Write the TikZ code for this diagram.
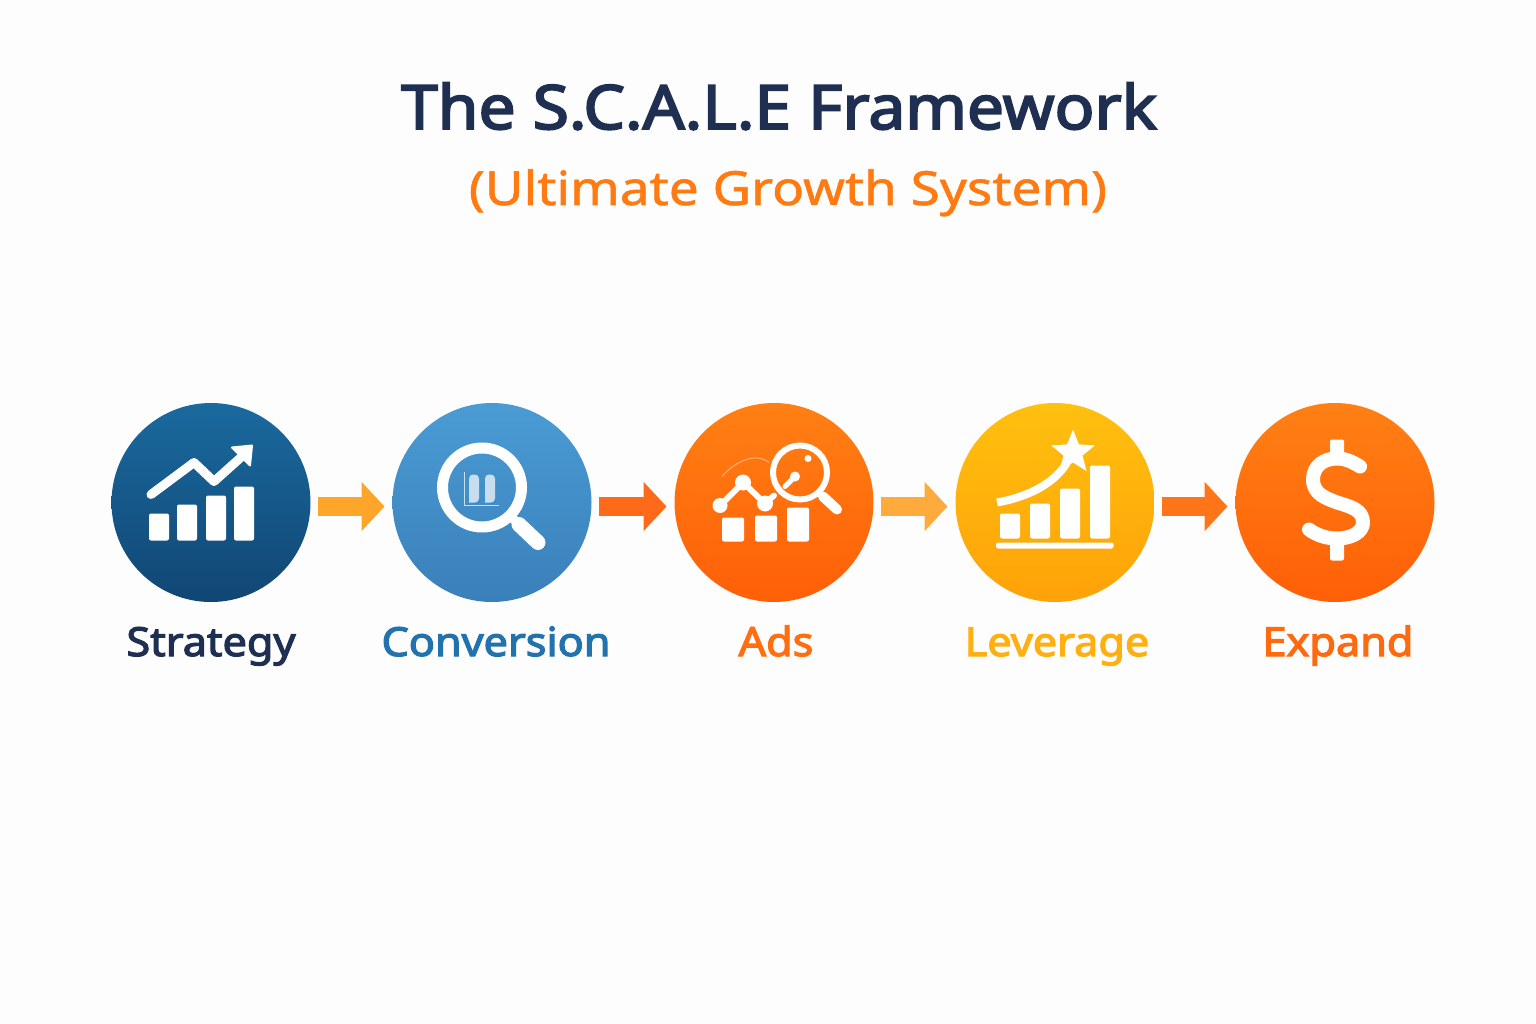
\documentclass[tikz,border=0pt]{standalone}
\usepackage{fontspec}
\setmainfont{Open Sans}
\newfontfamily\titlefont[FakeStretch=1.08,FakeBold=3.2]{Noto Sans}
\newfontfamily\subtitlefont[FakeStretch=1.13,FakeBold=1.2]{Noto Sans}
\newfontfamily\labelfont[FakeStretch=1.08,FakeBold=3]{Noto Sans}
\usetikzlibrary{arrows.meta,shapes.geometric}
\definecolor{navy}{HTML}{1F2F52}
\definecolor{subtitleorange}{HTML}{FF7A10}
\definecolor{strategytop}{HTML}{1A6A9E}
\definecolor{strategybottom}{HTML}{114674}
\definecolor{conversiontop}{HTML}{4A9BD4}
\definecolor{conversionbottom}{HTML}{3A80BA}
\definecolor{orangetop}{HTML}{FF8014}
\definecolor{orangebottom}{HTML}{FF5F08}
\definecolor{leveragetop}{HTML}{FFC00F}
\definecolor{leveragebottom}{HTML}{FFA208}
\definecolor{conversiontext}{HTML}{2272AE}
\definecolor{adstext}{HTML}{FF6F10}
\definecolor{leveragetext}{HTML}{FFB010}
\definecolor{expandtext}{HTML}{FF6A10}
\definecolor{flowone}{HTML}{FFA52A}
\definecolor{flowtwo}{HTML}{FF6A1A}
\definecolor{flowthree}{HTML}{FFAA3C}
\definecolor{flowfour}{HTML}{FF7518}
\definecolor{paleblue}{HTML}{C8DDEE}
\definecolor{paleorange}{HTML}{FFB080}
\definecolor{page}{HTML}{FDFDFD}
\tikzset{
  stepcircle/.style={circle, minimum size=199pt, inner sep=0pt, outer sep=0pt},
  steplabel/.style={anchor=base, font=\labelfont\fontsize{40}{40}\selectfont},
  flow/.style={line width=19pt, -{Triangle[length=23pt, width=48pt]}, shorten <=7pt, shorten >=8pt},
  iconbar/.style={fill=white, rounded corners=2pt},
  iconline/.style={draw=white, line cap=round, line join=round}
}
\begin{document}
\begin{tikzpicture}[x=1pt, y=-1pt]
    % Draw the page
    \fill[page] (0,0) rectangle (1536,1024);
    \useasboundingbox (0,0) rectangle (1536,1024);

    % Title and subtitle
    \node[anchor=base, text=navy, font=\titlefont\fontsize{61}{61}\selectfont] (title) at (779,129) {The S.C.A.L.E Framework};
    \node[anchor=base, text=subtitleorange, font=\subtitlefont\fontsize{47}{47}\selectfont] (subtitle) at (788,205) {(Ultimate Growth System)};

    % Draw the circles representing the steps
    \node[stepcircle, top color=strategytop, bottom color=strategybottom] (strategy) at (211,502.5) {};
    \node[stepcircle, top color=conversiontop, bottom color=conversionbottom] (conversion) at (492,502.5) {};
    \node[stepcircle, top color=orangetop, bottom color=orangebottom] (ads) at (774,502.5) {};
    \node[stepcircle, top color=leveragetop, bottom color=leveragebottom] (leverage) at (1055,502.5) {};
    \node[stepcircle, top color=orangetop, bottom color=orangebottom] (expand) at (1335,502.5) {};

    % Labels under the circles
    \node[steplabel, text=navy] (strategylabel) at (211,656) {Strategy};
    \node[steplabel, text=conversiontext] (conversionlabel) at (496,656) {Conversion};
    \node[steplabel, text=adstext] (adslabel) at (776,656) {Ads};
    \node[steplabel, text=leveragetext] (leveragelabel) at (1057,656) {Leverage};
    \node[steplabel, text=expandtext] (expandlabel) at (1338,656) {Expand};

    % Arrows from step to step
    \draw[flow, flowone] ([yshift=-4pt]strategy.east) -- ([yshift=-4pt]conversion.west);
    \draw[flow, flowtwo] ([yshift=-4pt]conversion.east) -- ([yshift=-4pt]ads.west);
    \draw[flow, flowthree] ([yshift=-4pt]ads.east) -- ([yshift=-4pt]leverage.west);
    \draw[flow, flowfour] ([yshift=-4pt]leverage.east) -- ([yshift=-4pt]expand.west);

    % Icon for strategy
    \begin{scope}[shift={(strategy.center)}]
        \fill[iconbar] (-62,11) rectangle (-42,38);
        \fill[iconbar] (-34,2) rectangle (-14,38);
        \fill[iconbar] (-5,-7) rectangle (15,38);
        \fill[iconbar] (23,-16) rectangle (43,38);
        \draw[iconline, line width=9pt] (-60,-8) -- (-17,-40) -- (3,-21) -- (32,-47);
        \fill[white, draw=white, line width=2pt, line join=round] (41,-57) -- (21,-55) -- (39,-37) -- cycle;
    \end{scope}

    % Icon for conversion
    \begin{scope}[shift={(conversion.center)}]
        \draw[white, line width=11pt] (-10,-15) circle (39.5);
        \draw[iconline, line width=9pt] (20,15) -- (27,22);
        \draw[iconline, line width=15pt] (27,22) -- (46,40);
        \draw[paleblue, line width=1pt] (-28,-31) -- (-28,3) -- (7,3);
        \fill[paleblue, rounded corners=4pt] (-23,0) -- (-23,-28) -- (-13,-28) -- (-13,0) [sharp corners] -- cycle;
        \fill[paleblue, rounded corners=4pt] (-7,0) -- (-7,-28) -- (3,-28) -- (3,0) [sharp corners] -- cycle;
    \end{scope}

    % Icon for ads
    \begin{scope}[shift={(ads.center)}]
        \fill[iconbar] (-52,15) rectangle (-30,39);
        \fill[iconbar] (-19,13) rectangle (3,39);
        \fill[iconbar] (13,5) rectangle (35,39);
        \draw[paleorange, line width=1pt] (-52,-26) .. controls (-42,-38) and (-20,-52) .. (-5,-40);
        \draw[iconline, line width=6pt] (-54,3) -- (-31,-20) -- (-9,1) -- (0,-7);
        \fill[white] (-54,3) circle (7.5);
        \fill[white] (-31,-20) circle (8);
        \fill[white] (-9,1) circle (8);
        \draw[white, line width=6pt] (26,-30) circle (27);
        \draw[iconline, line width=10pt] (49,-6) -- (63,7);
        \fill[white] (34,-44) circle (3.5);
        \fill[white] (21,-26) circle (5);
        \draw[iconline, line width=5pt] (21,-26) -- (11,-16);
    \end{scope}

    % Icon for leverage
    \begin{scope}[shift={(leverage.center)}]
        \fill[iconbar] (-55,11) rectangle (-35,36);
        \fill[iconbar] (-25,1) rectangle (-5,36);
        \fill[iconbar] (5,-14) rectangle (25,36);
        \fill[iconbar] (35,-37) rectangle (55,36);
        \fill[iconbar] (-59,40) rectangle (58.5,46);
        \draw[white, line width=8pt] (-58,0) .. controls (-25,-6) and (0,-20) .. (12,-40);
        \node[star, star points=5, star point ratio=2.3, fill=white, minimum size=46pt, inner sep=0pt] (leveragestar) at (18,-50) {};
    \end{scope}

    % Icon for expand
    \begin{scope}[shift={(expand.center)}]
        \draw[iconline, line width=14pt] (25,-36) .. controls (17,-41) and (10,-44) .. (2,-44) .. controls (-12,-44) and (-22,-36) .. (-22,-23) .. controls (-22,-8) and (-8,-4) .. (2,0) .. controls (15,4) and (28,7) .. (28,20) .. controls (28,30) and (16,36) .. (2,36) .. controls (-8,36) and (-18,33) .. (-26,27);
        \fill[iconbar] (-5,-63) rectangle (9,-44);
        \fill[iconbar] (-5,36) rectangle (9,58);
    \end{scope}
\end{tikzpicture}
\end{document}
